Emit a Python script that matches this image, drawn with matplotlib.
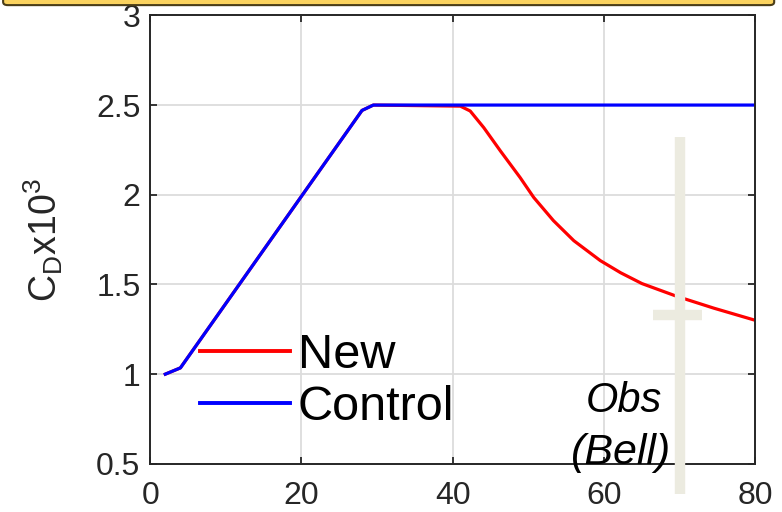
import matplotlib
matplotlib.use("Agg")
import matplotlib.pyplot as plt
from matplotlib.patches import FancyBboxPatch
from matplotlib.ticker import FormatStrFormatter

plt.rcParams["font.family"] = ["Liberation Sans", "DejaVu Sans"]

# Control run (blue)
control_x = [2, 4, 28, 29.5, 80]
control_y = [1.0, 1.035, 2.47, 2.5, 2.5]

# New run (red), same as control until ~41 then drops
new_x = [2, 4, 28, 29.5, 41, 42.3, 44.1, 46.3, 48.9, 50.7, 53.3, 56, 59.5,
         62.2, 65, 69.6, 74.5, 80]
new_y = [1.0, 1.035, 2.47, 2.5, 2.494, 2.467, 2.374, 2.244, 2.096, 1.985,
         1.856, 1.744, 1.633, 1.565, 1.505, 1.434, 1.368, 1.30]

# Observation (Bell): centre and error extents
obs_x, obs_y = 70, 1.33
obs_yerr = [[1.0], [0.99]]
obs_xerr = [[3.5], [3.0]]

xticks = [0, 20, 40, 60, 80]
yticks = [0.5, 1, 1.5, 2, 2.5, 3]

fig = plt.figure(figsize=(7.82, 5.12), dpi=100)
ax = fig.add_axes([0.192, 0.094, 0.774, 0.876])

# cut-off yellow banner at the top
banner = FancyBboxPatch((0.004, 0.99), 0.986, 0.06, boxstyle="round,pad=0,rounding_size=0.006",
                        transform=fig.transFigure, facecolor="#fbd35f", edgecolor="#4a3d18",
                        linewidth=1.5, clip_on=False)
fig.patches.append(banner)

ax.plot(new_x, new_y, color="#ff0000", lw=2.3, label="New")
ax.plot(control_x, control_y, color="#0000ff", lw=2.3, label="Control")

eb = ax.errorbar([obs_x], [obs_y], xerr=obs_xerr, yerr=obs_yerr, fmt="none",
                 ecolor="#ecebe0", elinewidth=7.5, capsize=0, zorder=3)
for coll in eb.lines[2]:
    coll.set_clip_on(False)

ax.text(62.6, 0.85, "Obs", fontsize=30, style="italic", ha="center", va="center")
ax.text(62.2, 0.56, "(Bell)", fontsize=31, style="italic", ha="center", va="center", zorder=4)

ax.set_xlim(0, 80)
ax.set_ylim(0.5, 3)
ax.set_xticks(xticks)
ax.set_yticks(yticks)
ax.yaxis.set_major_formatter(FormatStrFormatter("%g"))
ax.grid(True, color="#dcdcdc", lw=1.3)
ax.set_axisbelow(True)
ax.tick_params(direction="in", length=5, width=1.3, colors="#262626", labelsize=23,
               top=True, right=True)
ax.tick_params(axis="x", pad=12)
ax.tick_params(axis="y", pad=7)
for s in ax.spines.values():
    s.set_color("#262626")
    s.set_linewidth(1.4)

ax.set_ylabel(r"C$_\mathregular{D}$x10$^\mathregular{3}$", fontsize=27, color="#262626")
ax.yaxis.set_label_coords(-0.14, 0.5)

leg = ax.legend(loc="upper left", bbox_to_anchor=(0.083, 0.291), frameon=False,
                fontsize=35, handlelength=1.85, handletextpad=0.15, labelspacing=0.14,
                borderpad=0, borderaxespad=0)
for h in leg.get_lines():
    h.set_linewidth(2.8)

fig.savefig("out.png", dpi=100)
